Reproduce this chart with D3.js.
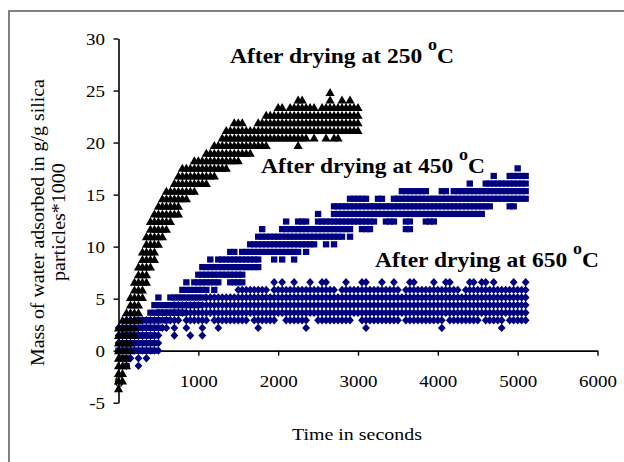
<!DOCTYPE html>
<html><head><meta charset="utf-8">
<script src="https://cdn.jsdelivr.net/npm/d3@7"></script>
<style>body{margin:0;background:#fff}svg{display:block}</style>
</head><body>
<svg id="c" width="624" height="462"></svg>
<script>
// ---------------- DATA ----------------
// Readings are quantised in steps of the balance; each row = one level,
// listing the sample numbers (one sample every SAMPLE_SECONDS) read at that level.
const SAMPLE_SECONDS = 50;
const xTicks = [0, 1000, 2000, 3000, 4000, 5000, 6000];
const yTicks = [30, 25, 20, 15, 10, 5, 0, -5];
const annotationTemps = ["250", "450", "650"];
const xTitle = "Time in seconds";
const yTitle1 = "Mass of water adsorbed in g/g silica";
const yTitle2 = "particles*1000";

// After drying at 250 °C (triangles)
const levels250 = [24.82, 24.09, 23.36, 22.63, 21.90, 21.17, 20.44, 19.71, 18.98, 18.25, 17.52, 16.79, 16.06, 15.33, 14.60, 13.87, 13.14, 12.41, 11.68, 10.95, 10.22, 9.49, 8.76, 8.03, 7.30, 6.57, 5.84, 5.11, 4.38, 3.65, 2.92, 2.19, 1.46, 0.73, 0, -0.73, -1.46, -2.19, -2.92, -3.65];
const samples250 = [
  [53],
  [45,46,53,56,58],
  [40,41,43,44,45,46,47,48,49,51,52,53,54,55,56,57,58,59,60],
  [37,38,39,40,41,42,43,44,45,46,47,48,49,50,51,52,53,54,55,56,57,58,59,60],
  [29,30,31,35,36,37,38,39,40,41,42,43,44,45,46,47,48,49,50,51,52,53,54,55,56,57,58,59,60],
  [27,28,29,30,31,32,33,34,35,36,37,38,39,40,41,42,43,44,45,46,47,48,49,50,51,52,53,54,55,56,57,58,59,60],
  [26,27,28,29,30,31,32,33,34,35,36,37,38,39,40,41,42,43,44,45,46,47,49,52,54,55],
  [24,25,26,27,28,29,30,31,32,33,34,35,36,37,45],
  [22,23,24,25,26,27,28,29,30,31,32,33],
  [19,20,21,22,23,24,25,26,27,28,29,30],
  [16,17,18,19,20,21,22,23,24,25,26,27],
  [15,16,17,18,19,20,21,22,23,24],
  [14,15,16,17,18,19,20,21,22],
  [12,13,14,15,16,17,18,19],
  [11,12,13,14,15,16,17],
  [10,11,12,13,14,15],
  [9,10,11,12,13,14,15],
  [8,9,10,11,12,13],
  [8,9,10,11,12],
  [7,8,9,10,11],
  [7,8,9,10],
  [6,7,8,9],
  [6,7,8,9],
  [5,6,7,8],
  [5,6,7],
  [4,5,6,7],
  [4,5,6],
  [3,4,5,6],
  [3,4,5],
  [2,3,4,5],
  [1,2,3,4,5],
  [0,1,2,3,4],
  [0,1,2,3,4],
  [0,1,2,3],
  [0,1,2,3],
  [0,1,2],
  [0,1,2],
  [0,1],
  [0,1],
  [0]
];

// After drying at 450 °C (squares)
const levels450 = [17.52, 16.79, 16.06, 15.33, 14.60, 13.87, 13.14, 12.41, 11.68, 10.95, 10.22, 9.49, 8.76, 8.03, 7.30, 6.57, 5.84, 5.11, 4.38, 3.65, 2.92, 2.19, 1.46, 0.73, 0, -0.73, -1.46];
const samples450 = [
  [100],
  [94,98,99,100,101,102],
  [88,92,93,94,95,96,97,98,99,100,101,102],
  [71,72,73,74,75,76,77,81,82,84,85,86,87,88,89,90,91,92,93,94,95,96,97,98,99,100,101,102],
  [58,59,60,61,62,65,66,69,70,71,72,73,74,75,76,77,78,79,80,81,82,83,84,85,86,87,88,89,90,91,92,93,94,95,96,97,98,99,100,101,102],
  [54,55,56,57,58,59,60,61,62,63,64,65,66,67,68,69,70,71,72,73,74,75,76,77,78,79,80,81,82,83,84,85,86,87,88,89,90,91,92,93,98,99],
  [50,54,55,56,57,58,59,60,61,62,63,64,65,66,67,68,69,70,71,72,73,74,75,76,77,78,79,80,81,82,83,84,85,86,87,88,89,90,91],
  [42,45,46,47,50,51,52,53,54,55,56,57,58,59,60,61,62,63,64,67,68,69,72,73,77,78,79],
  [36,41,42,43,44,45,46,47,48,49,50,51,52,53,54,55,56,57,58,61,62,63,72,73],
  [35,36,37,38,39,40,41,42,43,44,45,46,47,48,49,50,51,52,53,54,55,56,58],
  [33,34,35,36,37,38,39,40,41,42,43,44,45,46,47,48,49,52,54],
  [28,29,31,32,33,34,35,36,37,38,39,40,41,42,43,44,45,47],
  [23,25,26,27,28,29,30,31,32,33,34,35,39,41,44],
  [21,22,23,24,25,26,27,28,29,30,31,32,33,34,35],
  [20,21,22,23,24,25,26,27,28,29,30,31],
  [17,19,20,21,22,23,24,25,28,29,30,31],
  [16,17,18,19,20,21,22,24],
  [10,13,14,15,16,17,18,19,20,21],
  [9,10,11,12,13,14,15,16,17,18,19,20],
  [8,9,10,11,12,13,14,15,16],
  [5,6,7,8,9,10,11,12],
  [1,2,3,4,5,6,7,8,9,10],
  [1,2,3,4,5,6,7,8,9],
  [1,2,3,4,5,6,7,8,9],
  [0,1,2,3,4,5,6,7,8,9],
  [1,2],
  [2]
];

// After drying at 650 °C (diamonds)
const levels650 = [6.57, 5.84, 5.11, 4.38, 3.65, 2.92, 2.19, 1.46, 0.73, 0, -0.73, -1.46];
const samples650 = [
  [39,41,44,48,51,52,57,61,62,66,69,73,74,79,82,83,88,89,91,92,94,99,102],
  [30,31,32,33,34,35,36,37,39,40,41,42,43,44,45,46,47,48,49,50,51,52,53,54,56,57,58,59,60,61,62,63,64,65,66,67,68,69,70,72,73,74,75,76,77,78,79,80,81,82,83,84,85,87,88,89,90,91,92,93,94,95,96,97,98,99,100,101,102],
  [22,23,24,25,26,27,28,29,30,31,32,33,34,35,36,37,38,39,40,41,42,43,44,45,46,47,48,49,50,51,52,53,54,55,56,57,58,59,60,61,62,63,64,65,66,67,68,69,70,71,72,73,74,75,76,77,78,79,80,81,82,83,84,85,86,87,88,89,90,91,92,93,94,95,96,97,98,99,100,101,102],
  [14,15,16,17,18,19,20,21,22,23,24,25,26,27,28,29,30,31,32,33,34,35,36,37,38,39,40,41,42,43,44,45,46,47,48,49,50,51,52,53,54,55,56,57,58,59,60,61,62,63,64,65,66,67,68,69,70,71,72,73,74,75,76,77,78,79,80,81,82,83,84,85,86,87,88,89,90,91,92,93,94,95,96,97,98,99,100,101,102],
  [10,11,12,13,14,15,16,17,18,19,20,21,22,23,24,25,26,27,28,29,30,31,32,33,34,35,36,37,38,39,40,41,42,43,44,45,46,47,48,49,50,51,52,53,54,55,56,57,58,59,60,61,62,63,64,65,66,67,68,69,70,71,72,73,74,75,76,77,78,79,80,81,82,83,84,85,86,87,88,89,90,91,92,93,94,95,96,97,98,99,100,101,102],
  [2,3,4,5,6,7,8,9,10,12,13,14,15,17,18,19,20,21,22,24,25,26,27,28,29,30,31,32,34,35,36,37,38,39,42,43,44,45,46,47,50,51,52,53,54,55,56,57,58,61,62,63,64,65,66,67,68,69,70,72,73,74,75,76,77,78,79,80,81,83,84,85,86,87,88,89,90,92,93,94,95,96,98,99,100,101,102],
  [0,1,2,3,4,5,6,7,8,9,10,11,12,14,17,21,25,35,47,62,81,96],
  [0,1,2,3,4,5,6,7,8,9,10,14,18,21],
  [0,1,2,3,4,5,6,7,8,9,10],
  [0,1,2,3,4,5,6,7,8,9,10],
  [1,3,5,7],
  [2,5]
];

// ---------------- DRAWING ----------------
const FONT = '"Liberation Serif","Times New Roman",Times,serif';
const NAVY = "#000080";
const svg = d3.select("#c");

svg.append("rect").attr("x", 9).attr("y", 11).attr("width", 700).attr("height", 600)
  .attr("fill", "#fff").attr("stroke", "#808080").attr("stroke-width", 2);

const x = d3.scaleLinear().domain([0, 6000]).range([118.5, 597.5]);
const y = d3.scaleLinear().domain([-5, 30]).range([402.7, 38.5]);

// axes
const yAxis = svg.append("g").attr("transform", `translate(${x(0)},0)`)
  .call(d3.axisLeft(y).tickValues(yTicks).tickSize(5).tickSizeOuter(0).tickFormat(d => String(d)));
const xAxis = svg.append("g").attr("transform", `translate(0,${y(0)})`)
  .call(d3.axisBottom(x).tickValues(xTicks).tickSize(5).tickSizeOuter(0).tickFormat(d => String(d)));
[yAxis, xAxis].forEach(a => {
  a.attr("font-family", FONT).attr("font-size", 16.5);
  a.select(".domain").attr("stroke", "#000").attr("stroke-width", 1.6);
  a.selectAll(".tick line").attr("stroke", "#000").attr("stroke-width", 1.4);
  a.selectAll(".tick text").attr("fill", "#000");
});
yAxis.selectAll(".tick text").attr("x", -11.8).attr("dy", "0.34em").attr("transform", "scale(1.15,1)");
xAxis.selectAll(".tick text").attr("y", 25).attr("transform", "scale(1.15,1)");

// series
const plot = svg.append("g");
function drawSeries(levels, samples, shape, color) {
  const pts = [];
  levels.forEach((lv, i) => samples[i].forEach(s => pts.push({ t: s * SAMPLE_SECONDS, v: lv })));
  plot.append("g").selectAll("path").data(pts).enter().append("path")
    .attr("d", shape).attr("fill", color)
    .attr("transform", d => `translate(${x(d.t)},${y(d.v)})`);
}
drawSeries(levels650, samples650, "M0,-4.2L3.9,0L0,4.2L-3.9,0Z", NAVY);
drawSeries(levels450, samples450, "M-3.2,-3.1H3.2V3.1H-3.2Z", NAVY);
drawSeries(levels250, samples250, "M0,-4.5L4.6,3.5L-4.6,3.5Z", "#000");

// annotations
const notePos = [[230, 63.3], [261, 172.5], [375, 266.7]];
annotationTemps.forEach((temp, i) => {
  const t = svg.append("text")
    .attr("transform", `translate(${notePos[i][0]},${notePos[i][1]}) scale(1.12,1)`)
    .attr("font-family", FONT).attr("font-weight", "bold").attr("font-size", 21).attr("fill", "#000");
  t.append("tspan").text(`After drying at ${temp} `);
  t.append("tspan").attr("font-size", 16).attr("dy", -13).text("o");
  t.append("tspan").attr("dy", 13).text("C");
});

// axis titles (stretched along the text to the measured length)
function fitted(str, size, target, place) {
  const t = svg.append("text").attr("font-family", FONT).attr("font-size", size).attr("fill", "#000").text(str);
  const w = t.node().getComputedTextLength();
  t.attr("transform", `${place} scale(${target / w},1)`);
  return t;
}
fitted(xTitle, 16, 130, "translate(292,440)");
fitted(yTitle1, 18, 287, "translate(43.5,366) rotate(-90)");
fitted(yTitle2, 18, 118, "translate(64.5,281) rotate(-90)");
</script>
</body></html>
